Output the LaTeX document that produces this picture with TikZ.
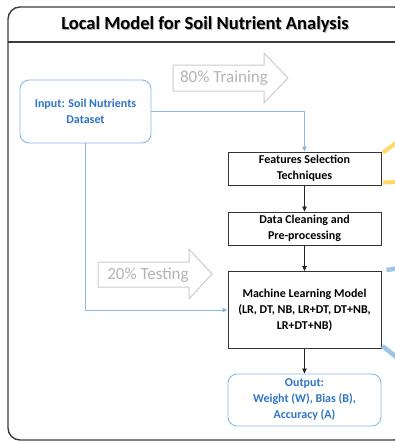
\documentclass[tikz,border=0pt]{standalone}
\usepackage{fontspec}
\setmainfont{Carlito}
\usetikzlibrary{arrows.meta}
\definecolor{txtblue}{RGB}{46,117,200}
\definecolor{lblue}{RGB}{140,185,230}
\definecolor{fgray}{RGB}{60,60,60}
\definecolor{agray}{RGB}{205,205,205}
\definecolor{tgray}{RGB}{180,180,180}
\definecolor{yel}{RGB}{255,217,102}
\definecolor{sblue}{RGB}{157,195,230}
\tikzset{
  procbox/.style={draw=black!80, line width=0.9pt, fill=white, minimum width=153pt, align=center, font=\bfseries\fontsize{12}{16}\selectfont, inner sep=1pt},
  bluebox/.style={draw=lblue, line width=0.9pt, rounded corners=9pt, fill=white, align=center, text=txtblue, font=\bfseries\fontsize{12}{16}\selectfont, inner sep=1pt},
  blueline/.style={draw=lblue, line width=0.8pt, -{Triangle[length=5pt,width=4.5pt]}},
  blackline/.style={draw=black!85, line width=0.8pt, -{Triangle[length=5pt,width=4.5pt]}},
  blockarrow/.style={draw=agray, line width=1pt, fill=white},
  arrowtext/.style={text=tgray, font=\fontsize{17}{19}\selectfont},
  yelstub/.style={yel, line width=4pt},
  bluestub/.style={sblue, line width=4.5pt},
}
\begin{document}
\begin{tikzpicture}[x=1pt,y=-1pt]
\useasboundingbox (0,0) rectangle (395,442);
\clip (0,0) rectangle (395,442);
% frame
\draw[fgray, line width=1.4pt, rounded corners=12pt] (8,7) rectangle (406,440);
\draw[fgray, line width=1.2pt] (8,42) -- (406,42);
\node[font=\bfseries\fontsize{18.5}{20}\selectfont, text=black!60, opacity=0.5] at (206,25) {Local Model for Soil Nutrient Analysis};
\node[font=\bfseries\fontsize{18.5}{20}\selectfont] (title) at (205,24) {Local Model for Soil Nutrient Analysis};
% block arrows
\draw[blockarrow] (173,65) -- (264,65) -- (264,53) -- (288,78) -- (264,103) -- (264,91) -- (173,91) -- cycle;
\node[arrowtext] (train) at (224,78) {80\% Training};
\draw[blockarrow] (98,262) -- (189,262) -- (189,249) -- (212,274) -- (189,299) -- (189,287) -- (98,287) -- cycle;
\node[arrowtext] (test) at (148,275) {20\% Testing};
% boxes
\node[bluebox, minimum width=131pt, minimum height=63pt] (in) at (85.5,111.5) {Input: Soil Nutrients\\Dataset};
\node[procbox, minimum height=33pt] (fs) at (304.5,168.5) {Features Selection\\Techniques};
\node[procbox, minimum height=33pt] (dc) at (304.5,228.5) {Data Cleaning and\\Pre-processing};
\node[procbox, minimum height=77pt] (ml) at (304.5,310) {Machine Learning Model\\(LR, DT, NB, LR+DT, DT+NB,\\LR+DT+NB)};
\node[bluebox, minimum width=153pt, minimum height=52pt] (out) at (304.5,400) {Output:\\Weight (W), Bias (B),\\Accuracy (A)};
% connectors
\draw[blueline] (in.east) -| (fs.north);
\draw[blueline] (in.south) |- (ml.west);
\draw[blackline] (fs) -- (dc);
\draw[blackline] (dc) -- (ml);
\draw[blackline] (ml) -- (out);
% stubs to the right
\coordinate (y1) at (400,140);
\coordinate (y2) at (400,182);
\coordinate (b1) at (400,268);
\coordinate (b2) at (400,360);
\draw[yelstub] ([xshift=1.5pt,yshift=-1pt]fs.north east) -- (y1);
\draw[yelstub] ([xshift=1.5pt,yshift=3pt]fs.south east) -- (y2);
\draw[bluestub] ([xshift=5pt,yshift=1pt]ml.north east) -- (b1);
\draw[bluestub] ([xshift=1pt,yshift=3pt]ml.south east) -- (b2);
\end{tikzpicture}
\end{document}
